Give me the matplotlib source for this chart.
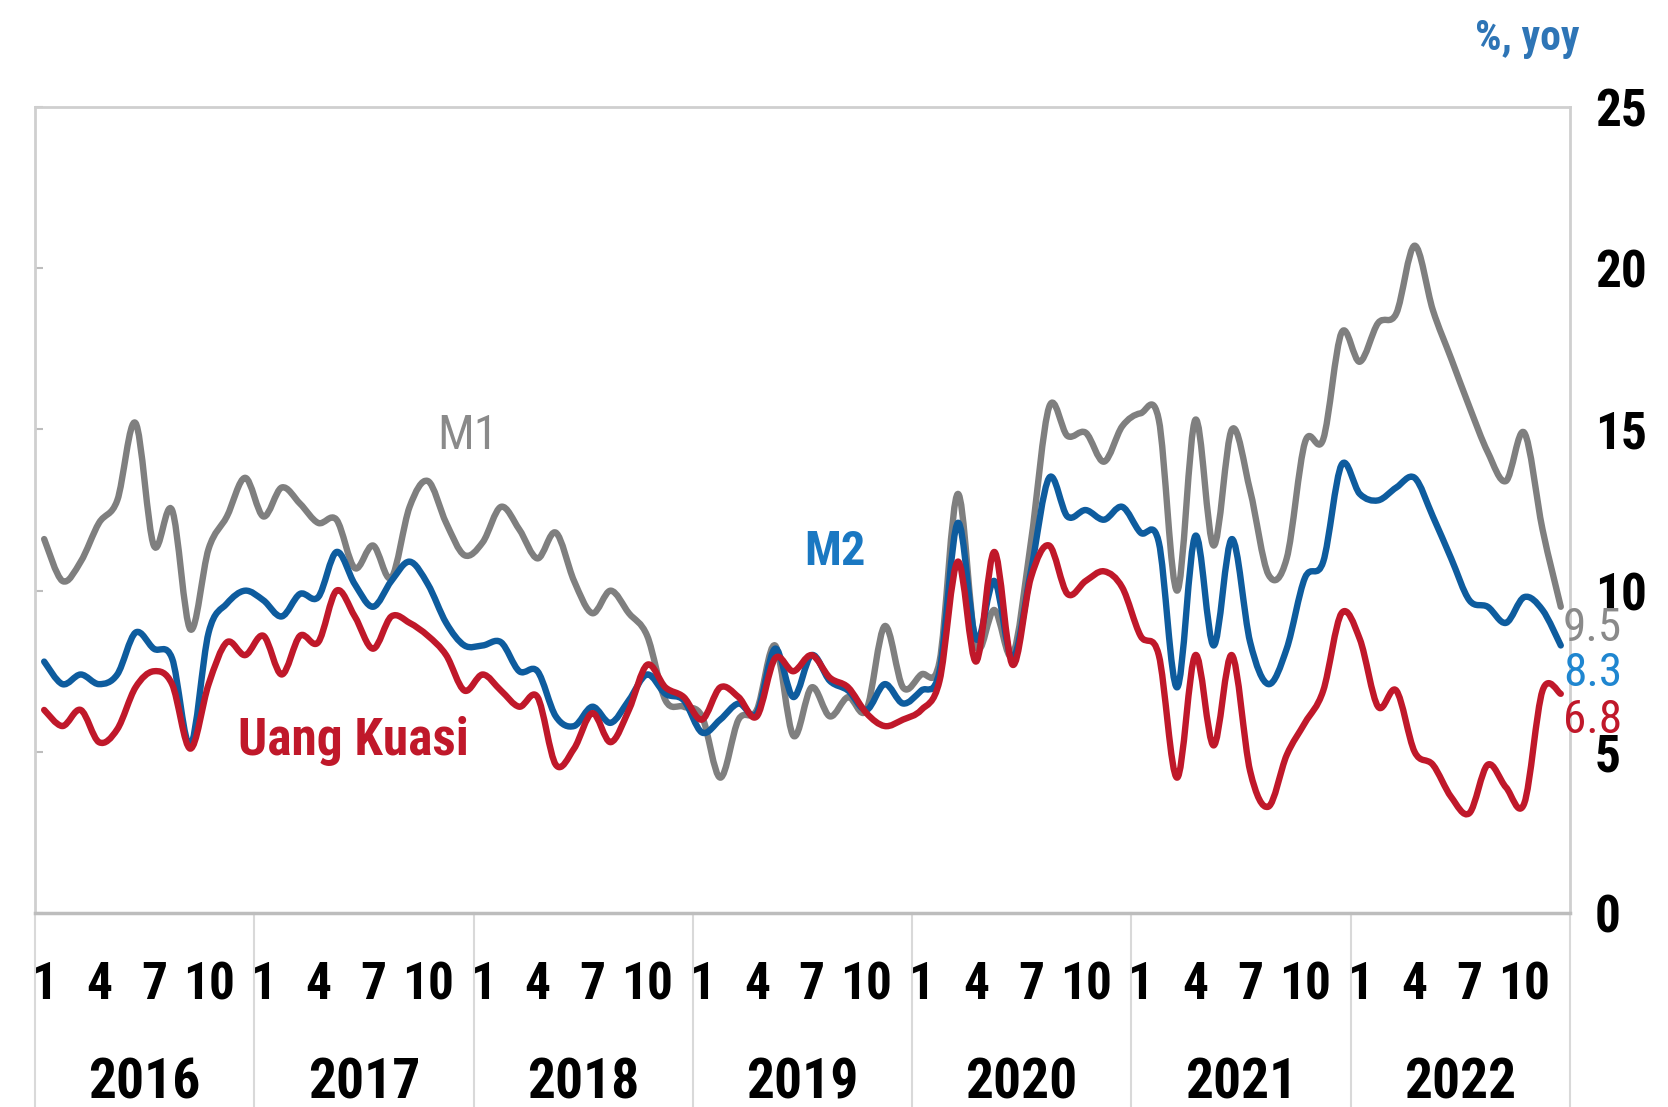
import numpy as np
import matplotlib
matplotlib.use("Agg")
import matplotlib.pyplot as plt
from matplotlib import font_manager
from matplotlib.path import Path
from matplotlib.patches import PathPatch
from matplotlib.transforms import blended_transform_factory

# pertumbuhan uang beredar, % yoy, bulanan Jan 2016 - Des 2022
years = ["2016", "2017", "2018", "2019", "2020", "2021", "2022"]
month_ticks = [1, 4, 7, 10]

m1 = [
    11.6, 10.3, 10.9, 12.1, 12.8, 15.2, 11.4, 12.5, 8.8, 11.3, 12.3, 13.5,
    12.3, 13.2, 12.7, 12.1, 12.2, 10.7, 11.4, 10.4, 12.6, 13.4, 12.1, 11.1,
    11.5, 12.6, 11.9, 11.0, 11.8, 10.3, 9.3, 10.0, 9.3, 8.6, 6.6, 6.4,
    6.1, 4.2, 6.0, 6.3, 8.3, 5.5, 7.0, 6.1, 6.7, 6.3, 8.9, 7.0,
    7.4, 7.8, 13.0, 8.3, 9.4, 8.0, 11.5, 15.7, 14.8, 14.9, 14.0, 15.1,
    15.5, 15.3, 10.0, 15.3, 11.4, 15.0, 13.1, 10.5, 11.0, 14.6, 14.7, 18.0,
    17.1, 18.3, 18.6, 20.7, 18.7, 17.2, 15.7, 14.3, 13.4, 14.9, 11.9, 9.5,
]
m2 = [
    7.8, 7.1, 7.4, 7.1, 7.4, 8.7, 8.2, 7.9, 5.2, 8.7, 9.6, 10.0,
    9.7, 9.2, 9.9, 9.8, 11.2, 10.2, 9.5, 10.3, 10.9, 10.2, 9.0, 8.3,
    8.3, 8.4, 7.5, 7.5, 6.1, 5.8, 6.4, 5.9, 6.6, 7.4, 6.8, 6.6,
    5.6, 6.0, 6.5, 6.2, 8.2, 6.7, 8.0, 7.2, 6.9, 6.3, 7.1, 6.5,
    6.9, 7.5, 12.1, 8.5, 10.3, 7.9, 10.6, 13.5, 12.3, 12.5, 12.2, 12.6,
    11.8, 11.5, 7.0, 11.7, 8.3, 11.6, 8.4, 7.1, 8.2, 10.4, 10.9, 13.9,
    13.0, 12.8, 13.2, 13.5, 12.3, 11.0, 9.7, 9.5, 9.0, 9.8, 9.4, 8.3,
]
uang_kuasi = [
    6.3, 5.8, 6.3, 5.3, 5.7, 7.0, 7.5, 7.1, 5.1, 7.1, 8.4, 8.0,
    8.6, 7.4, 8.6, 8.4, 10.0, 9.2, 8.2, 9.2, 9.0, 8.6, 8.0, 6.9,
    7.4, 6.9, 6.4, 6.7, 4.6, 5.1, 6.2, 5.3, 6.3, 7.7, 7.0, 6.7,
    6.0, 7.0, 6.7, 6.1, 7.9, 7.5, 8.0, 7.3, 7.0, 6.2, 5.8, 6.0,
    6.3, 7.2, 10.9, 7.8, 11.2, 7.7, 10.4, 11.4, 9.9, 10.3, 10.6, 10.1,
    8.6, 8.0, 4.2, 8.0, 5.2, 8.0, 4.4, 3.3, 4.9, 5.9, 6.9, 9.3,
    8.5, 6.4, 6.9, 5.0, 4.6, 3.6, 3.1, 4.6, 3.9, 3.4, 6.9, 6.8,
]

GRAY = "#7f7f7f"
BLUE = "#0e5c9e"
RED = "#c0182a"


def narrow_font():
    # cari font sempit yang terpasang
    fl = font_manager.fontManager.ttflist
    for want in ["Roboto Condensed", "Liberation Sans Narrow", "Open Sans Condensed",
                 "Arial Narrow", "DejaVu Sans Condensed"]:
        if any(f.name == want for f in fl):
            return {"family": want}
    return {"family": "Liberation Sans"}


def smooth_path(xs, ys):
    # garis halus ala Excel: kurva Bezier yang melewati setiap titik data
    p = np.column_stack([xs, ys]).astype(float)
    n = len(p)
    verts = [p[0]]
    codes = [Path.MOVETO]
    for i in range(n - 1):
        p0 = p[i - 1] if i > 0 else p[i]
        p3 = p[i + 2] if i + 2 < n else p[i + 1]
        c1 = p[i] + (p[i + 1] - p0) / 6.0
        c2 = p[i + 1] - (p3 - p[i]) / 6.0
        verts += [c1, c2, p[i + 1]]
        codes += [Path.CURVE4] * 3
    return Path(verts, codes)


NF = narrow_font()

fig = plt.figure(figsize=(16.68, 11.07), dpi=100)
ax = fig.add_axes([0.021, 0.1752, 0.9202, 0.7281])

x = np.arange(len(m1))
for vals, col in [(m1, GRAY), (m2, BLUE), (uang_kuasi, RED)]:
    ax.add_patch(PathPatch(smooth_path(x, vals), fill=False, edgecolor=col, lw=4.6,
                           joinstyle="round", capstyle="round"))

ax.set_xlim(-0.5, len(m1) - 0.5)
ax.set_ylim(0, 25)

# sumbu y di kanan
ax.set_yticks(np.arange(0, 26, 5))
ax.tick_params(axis="y", left=True, right=False, labelleft=False, labelright=True,
               direction="in", length=6, width=1.5, color="#bdbdbd", pad=18,
               labelsize=37)
for lab in ax.get_yticklabels():
    lab.set(**NF)
    lab.set_weight("bold")

# label bulan
pos = [yi * 12 + m - 1 for yi in range(len(years)) for m in month_ticks]
ax.set_xticks(pos)
ax.set_xticklabels([str(m) for _ in years for m in month_ticks])
ax.tick_params(axis="x", length=0, pad=34, labelsize=37)
for lab in ax.get_xticklabels():
    lab.set(**NF)
    lab.set_weight("bold")

for side in ["top", "left", "right"]:
    ax.spines[side].set_color("#cfcfcf")
    ax.spines[side].set_linewidth(2)
ax.spines["bottom"].set_color("#bdbdbd")
ax.spines["bottom"].set_linewidth(2.5)

# tahun + garis pemisah
trans = blended_transform_factory(ax.transData, ax.transAxes)
for k in range(len(years) + 1):
    ax.plot([k * 12 - 0.5] * 2, [0, -0.25], transform=trans, color="#d9d9d9",
            lw=1.5, clip_on=False)
for k, yr in enumerate(years):
    ax.text(k * 12 + 5.5, -0.212, yr, transform=trans, ha="center", va="center",
            fontsize=40, fontweight="bold", **NF)

# nama seri
ax.text(23.2, 14.8, "M1", color="#8a8a8a", fontsize=35,
        ha="center", va="center", **NF)
ax.text(43.3, 11.2, "M2", color="#1a78c2", fontsize=35,
        fontweight="bold", ha="center", va="center", **NF)
ax.text(16.9, 5.35, "Uang Kuasi", color=RED, fontsize=37,
        fontweight="bold", ha="center", va="center", **NF)

# nilai terakhir
last = len(m1) - 1
for vals, col, dy in [(m1, "#8a8a8a", -15), (m2, "#1f86d0", -20), (uang_kuasi, RED, -19)]:
    ax.annotate(f"{vals[-1]:.1f}", xy=(last, vals[-1]), xytext=(1.5, dy),
                textcoords="offset points", color=col, fontsize=34,
                ha="left", va="center", annotation_clip=False, **NF)

fig.text(0.947, 0.965, "%, yoy", color="#2e75b6", fontsize=30,
         fontweight="bold", ha="right", va="center", **NF)

fig.savefig("out.png", dpi=100)
